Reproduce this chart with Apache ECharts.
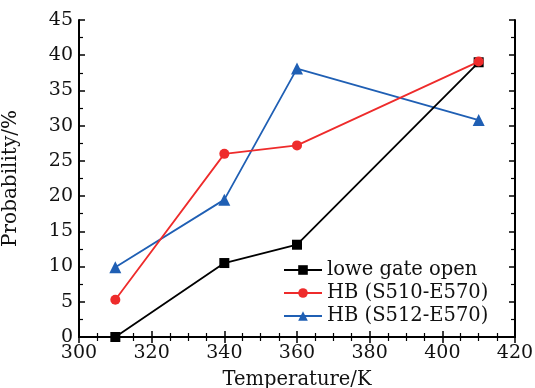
<!DOCTYPE html>
<html>
<head>
<meta charset="utf-8">
<script src="https://cdn.jsdelivr.net/npm/echarts@6/dist/echarts.min.js"></script>
<style>
  html, body { margin: 0; padding: 0; background: #fff; }
  #chart { width: 535px; height: 388px; }
</style>
</head>
<body>
<div id="chart"></div>
<script>
const temps = [310, 340, 360, 410];
const gateOpen = [0, 10.5, 13.1, 39.0];
const hb510 = [5.3, 26.0, 27.2, 39.1];
const hb512 = [9.9, 19.5, 38.1, 30.8];

const font = "'DejaVu Serif', 'Liberation Serif', serif";
const pair = (ys) => temps.map((t, i) => [t, ys[i]]);

const chart = echarts.init(document.getElementById("chart"));

const tickStyle = { show: true, inside: true, length: 6, lineStyle: { color: "#000", width: 1.5 } };
const minorX = { show: true, splitNumber: 4, length: 4, lineStyle: { color: "#000", width: 1.2 } };
const minorY = { show: true, splitNumber: 2, length: 4, lineStyle: { color: "#000", width: 1.2 } };
const lineStyle = { show: true, lineStyle: { color: "#000", width: 2 } };

chart.setOption({
  animation: false,
  grid: { left: 79, right: 20, top: 20, bottom: 51, outerBoundsMode: "none", containLabel: false },
  legend: {
    orient: "vertical",
    left: 278,
    top: 254,
    itemWidth: 38,
    itemHeight: 12,
    itemGap: 1,
    textStyle: { fontFamily: font, fontSize: 19.5, color: "#111", lineHeight: 22 },
    data: ["lowe gate open", "HB (S510-E570)", "HB (S512-E570)"]
  },
  xAxis: [
    {
      type: "value", min: 300, max: 420, interval: 20,
      name: "Temperature/K", nameLocation: "middle", nameGap: 33,
      nameTextStyle: { fontFamily: font, fontSize: 19.5, color: "#111" },
      axisLine: lineStyle, axisTick: tickStyle, minorTick: minorX,
      axisLabel: { fontFamily: font, fontSize: 19, color: "#111", margin: 7 },
      splitLine: { show: false }
    },
    {
      type: "value", min: 300, max: 420, interval: 20, position: "top",
      axisLine: lineStyle, axisTick: tickStyle, minorTick: minorX,
      axisLabel: { show: false }, splitLine: { show: false }
    }
  ],
  yAxis: [
    {
      type: "value", min: 0, max: 45, interval: 5,
      name: "Probability/%", nameLocation: "middle", nameGap: 58,
      nameTextStyle: { fontFamily: font, fontSize: 20, color: "#111" },
      axisLine: lineStyle, axisTick: tickStyle, minorTick: minorY,
      axisLabel: { fontFamily: font, fontSize: 19, color: "#111", margin: 6 },
      splitLine: { show: false }
    },
    {
      type: "value", min: 0, max: 45, interval: 5, position: "right",
      axisLine: lineStyle, axisTick: tickStyle, minorTick: minorY,
      axisLabel: { show: false }, splitLine: { show: false }
    }
  ],
  series: [
    {
      name: "lowe gate open", type: "line", data: pair(gateOpen),
      symbol: "rect", symbolSize: 10,
      itemStyle: { color: "#000" }, lineStyle: { color: "#000", width: 1.8 }, z: 3
    },
    {
      name: "HB (S510-E570)", type: "line", data: pair(hb510),
      symbol: "circle", symbolSize: 10,
      itemStyle: { color: "#ee2b2b" }, lineStyle: { color: "#ee2b2b", width: 1.8 }, z: 4
    },
    {
      name: "HB (S512-E570)", type: "line", data: pair(hb512),
      symbol: "triangle", symbolSize: 12,
      itemStyle: { color: "#1f5fb4" }, lineStyle: { color: "#1f5fb4", width: 1.8 }, z: 2
    }
  ]
});
</script>
</body>
</html>
